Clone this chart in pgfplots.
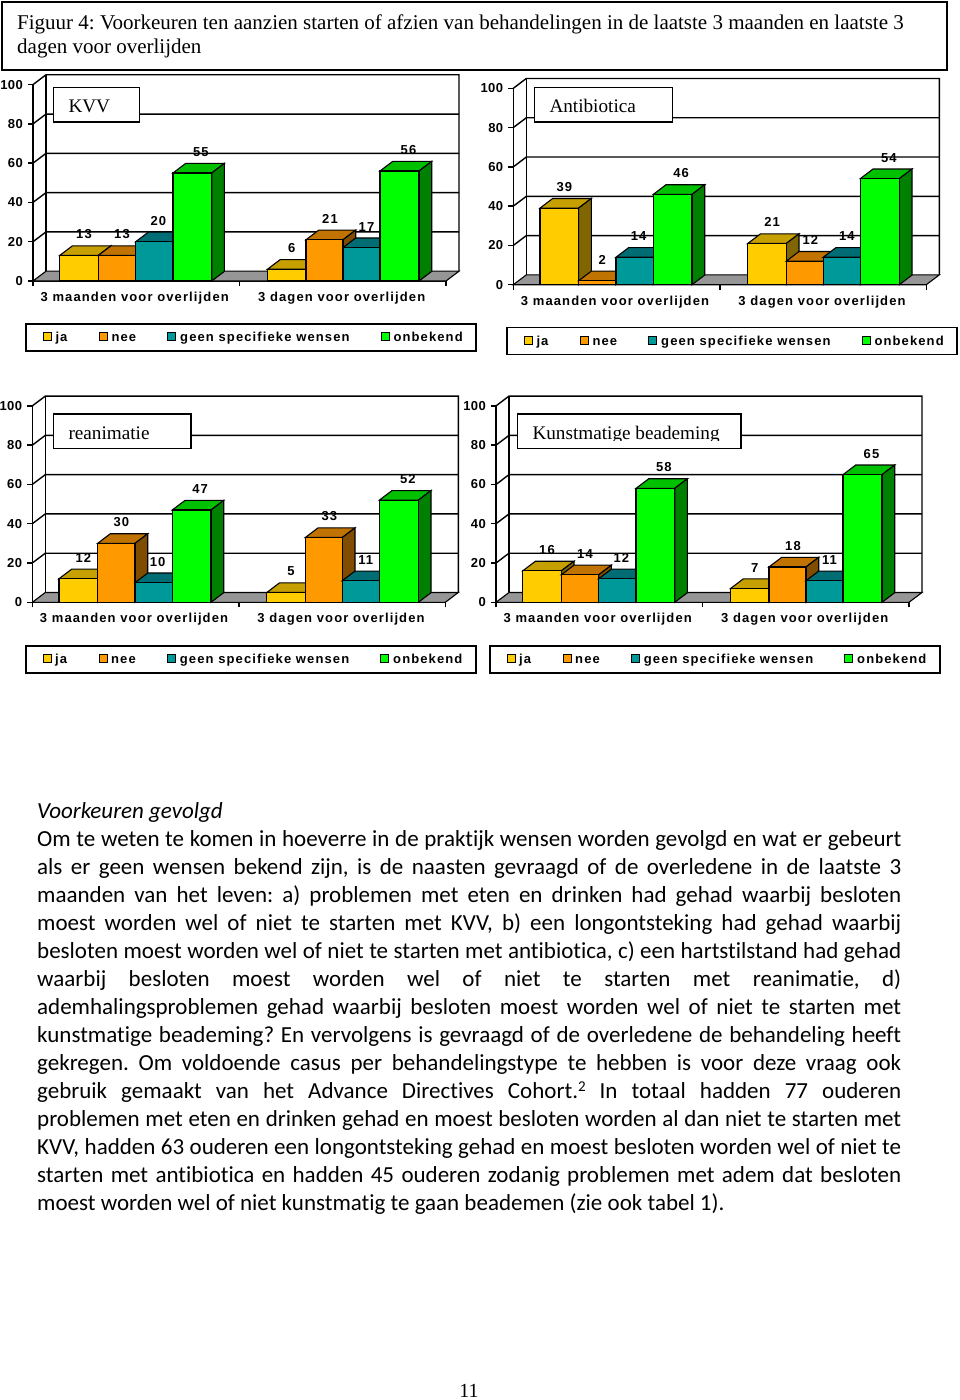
\documentclass[border=0pt]{standalone}
\usepackage{fontspec}
\usepackage{pgfplots}
\pgfplotsset{compat=1.18}
\setmainfont{Liberation Serif}
\newfontfamily\chartfont[LetterSpace=8.6]{Liberation Sans}
\newfontfamily\tickfont[LetterSpace=3]{Liberation Sans}
\newfontfamily\bodyfont[Ligatures=NoCommon]{Carlito}
\frenchspacing
\definecolor{ja}{HTML}{FFCC00}\definecolor{jaT}{HTML}{C6A000}\definecolor{jaS}{HTML}{806600}
\definecolor{nee}{HTML}{FF9900}\definecolor{neeT}{HTML}{C07300}\definecolor{neeS}{HTML}{804D00}
\definecolor{geen}{HTML}{009999}\definecolor{geenT}{HTML}{006D75}\definecolor{geenS}{HTML}{004D4D}
\definecolor{onb}{HTML}{00FF00}\definecolor{onbT}{HTML}{00C000}\definecolor{onbS}{HTML}{008000}
\definecolor{floorgray}{HTML}{969696}
\def\dX{12.7}\def\dV{4.9}
\newcommand\cf{\fontsize{13}{15}\selectfont\bfseries\chartfont}
\newcommand\tf{\fontsize{13}{15}\selectfont\bfseries\tickfont}
\newcommand\bbar[5]{%
 \pgfmathsetmacro\xL{#1}\pgfmathsetmacro\xR{#2}\pgfmathsetmacro\vT{#3}%
 \pgfmathsetmacro\xLb{#1+\dX}\pgfmathsetmacro\xRb{#2+\dX}\pgfmathsetmacro\vB{#3+\dV}%
 \pgfmathsetmacro\xC{(#1+#2)/2+#5}%
 \addplot[fill=#4T,draw=black,line width=1.1pt] coordinates {(\xL,\vT)(\xR,\vT)(\xRb,\vB)(\xLb,\vB)} --cycle;
 \addplot[fill=#4S,draw=black,line width=1.1pt] coordinates {(\xR,0)(\xRb,\dV)(\xRb,\vB)(\xR,\vT)} --cycle;
 \addplot[fill=#4,draw=black,line width=1.1pt] coordinates {(\xL,0)(\xR,0)(\xR,\vT)(\xL,\vT)} --cycle;
 \addplot[draw=none,mark=none,nodes near coords={\cf #3},
   every node near coord/.style={anchor=center,yshift=21pt,inner sep=0pt,text=black}] coordinates {(\xC,\vT)};
}
\newcommand\bars[8]{%
 \bbar{26.7}{65.3}{#1}{ja}{5}\bbar{65.3}{102.7}{#2}{nee}{5}\bbar{102.7}{140}{#3}{geen}{4}\bbar{140}{178.7}{#4}{onb}{8.5}%
 \bbar{234.5}{273}{#5}{ja}{5}\bbar{273}{310}{#6}{nee}{5.5}\bbar{310}{347}{#7}{geen}{5}\bbar{347}{386}{#8}{onb}{9}%
}
\newcommand\walls{%
 \addplot[fill=floorgray,draw=black,line width=1.1pt] coordinates {(0,0)(413,0)(426,5)(13,5)} --cycle;
 \addplot[black,line width=1.4pt] coordinates {(0,20)(13,25)(426,25)};
 \addplot[black,line width=1.4pt] coordinates {(0,40)(13,45)(426,45)};
 \addplot[black,line width=1.4pt] coordinates {(0,60)(13,65)(426,65)};
 \addplot[black,line width=1.4pt] coordinates {(0,80)(13,85)(426,85)};
 \addplot[black,line width=1.4pt] coordinates {(0,100)(13,105)(426,105)(426,5)};
 \addplot[black,line width=1.4pt] coordinates {(13,5)(13,105)};
}
\pgfplotsset{panel/.style={
  scale only axis,width=413pt,height=196.4pt,xmin=0,xmax=413,ymin=0,ymax=100,clip=false,
  axis x line=bottom,axis y line=left,x axis line style={-},y axis line style={-},
  axis line style={line width=1.4pt,black},
  tick align=outside,major tick length=5pt,tick style={black,line width=1.4pt},
  xtick={0,206.5,413},xticklabels={},ytick={0,20,...,100},
  extra x ticks={101.7,308.7},extra x tick labels={3 maanden voor overlijden,3 dagen voor overlijden},
  extra x tick style={major tick length=0pt,tick label style={yshift=-2pt}},
  /pgf/number format/assume math mode=true,
  tick label style={inner sep=0pt},
  yticklabel style={xshift=-5pt,font=\tf},
  xticklabel style={yshift=-9pt,font=\cf},
}}
\newcommand\panel[3]{\begin{axis}[panel,at={(#1pt,-#2pt)}]\walls #3\end{axis}}
\newcommand\swatch[2]{\path[fill=#1,draw=black,line width=.9pt] (#2-4,8.5) rectangle (#2+4,16.5);}
\newcommand\legendbox[2]{\begin{scope}[shift={(#1,#2)}]
 \draw[black,line width=1.8pt,fill=white] (0,0) rectangle (449.7,27);
 \swatch{ja}{21.4}\swatch{nee}{77}\swatch{geen}{145.4}\swatch{onb}{358.7}
 \node[anchor=base west,inner sep=0pt] at (29,17.5) {\cf ja};
 \node[anchor=base west,inner sep=0pt] at (85,17.5) {\cf nee};
 \node[anchor=base west,inner sep=0pt] at (153.7,17.5) {\cf geen specifieke wensen};
 \node[anchor=base west,inner sep=0pt] at (367,17.5) {\cf onbekend};
\end{scope}}
\newcommand\tbox[5]{\draw[black,line width=1.2pt,fill=white] (#1,#2) rectangle (#3,#4);
 \begin{scope}\clip (#1,#2) rectangle (#3,#2+26.5);
 \node[anchor=base west,inner sep=0pt] at (#1+15,#2+25.2) {\fontsize{19.2}{24}\selectfont #5};\end{scope}}
\newcommand\bl[2]{\node[anchor=base west,inner sep=0pt] at (37,#1) {\fontsize{23}{26}\selectfont\bodyfont\makebox[864pt][s]{#2}};}
\begin{document}
\begin{tikzpicture}[x=1pt,y=-1pt]
\path[use as bounding box,fill=white] (0,0) rectangle (960,1400);
\draw[black,line width=1.8pt] (2,2) rectangle (947,70);
\node[anchor=base west,inner sep=0pt] at (17,29) {\fontsize{21}{24}\selectfont Figuur 4: Voorkeuren ten aanzien starten of afzien van behandelingen in de laatste 3 maanden en laatste 3};
\node[anchor=base west,inner sep=0pt] at (17,53) {\fontsize{21}{24}\selectfont dagen voor overlijden};
\panel{33}{281}{\bars{13}{13}{20}{55}{6}{21}{17}{56}}
\panel{513.3}{284.7}{\bars{39}{2}{14}{46}{21}{12}{14}{54}}
\panel{32.3}{602.3}{\bars{12}{30}{10}{47}{5}{33}{11}{52}}
\panel{496}{602.3}{\bars{16}{14}{12}{58}{7}{18}{11}{65}}
\tbox{53.3}{87.7}{139.7}{122}{KVV}
\tbox{534.3}{87.7}{672.3}{122}{Antibiotica}
\tbox{53.3}{414}{191}{448.7}{reanimatie}
\tbox{517.3}{414}{741}{448.7}{Kunstmatige beademing}
\legendbox{26.3}{324}
\legendbox{507.3}{327.5}
\legendbox{26}{646}
\legendbox{490}{646}
\node[anchor=base west,inner sep=0pt] at (37,818.3) {\fontsize{23}{26}\selectfont\bodyfont\itshape Voorkeuren gevolgd};
\bl{846.7}{Om te weten te komen in hoeverre in de praktijk wensen worden gevolgd en wat er gebeurt}
\bl{874.7}{als er geen wensen bekend zijn, is de naasten gevraagd of de overledene in de laatste 3}
\bl{902.7}{maanden van het leven: a) problemen met eten en drinken had gehad waarbij besloten}
\bl{930.7}{moest worden wel of niet te starten met KVV, b) een longontsteking had gehad waarbij}
\bl{958.7}{besloten moest worden wel of niet te starten met antibiotica, c) een hartstilstand had gehad}
\bl{986.7}{waarbij besloten moest worden wel of niet te starten met reanimatie, d)}
\bl{1014.7}{ademhalingsproblemen gehad waarbij besloten moest worden wel of niet te starten met}
\bl{1042.7}{kunstmatige beademing? En vervolgens is gevraagd of de overledene de behandeling heeft}
\bl{1070.7}{gekregen. Om voldoende casus per behandelingstype te hebben is voor deze vraag ook}
\bl{1098.7}{gebruik gemaakt van het Advance Directives Cohort.\raisebox{7pt}{\fontsize{15}{15}\selectfont 2} In totaal hadden 77 ouderen}
\bl{1126.7}{problemen met eten en drinken gehad en moest besloten worden al dan niet te starten met}
\bl{1154.7}{KVV, hadden 63 ouderen een longontsteking gehad en moest besloten worden wel of niet te}
\bl{1182.7}{starten met antibiotica en hadden 45 ouderen zodanig problemen met adem dat besloten}
\node[anchor=base west,inner sep=0pt] at (37,1210.7) {\fontsize{23}{26}\selectfont\bodyfont moest worden wel of niet kunstmatig te gaan beademen (zie ook tabel 1).};
\node[anchor=base,inner sep=0pt] at (469,1397) {\fontsize{20}{24}\selectfont 11};
\end{tikzpicture}
\end{document}
